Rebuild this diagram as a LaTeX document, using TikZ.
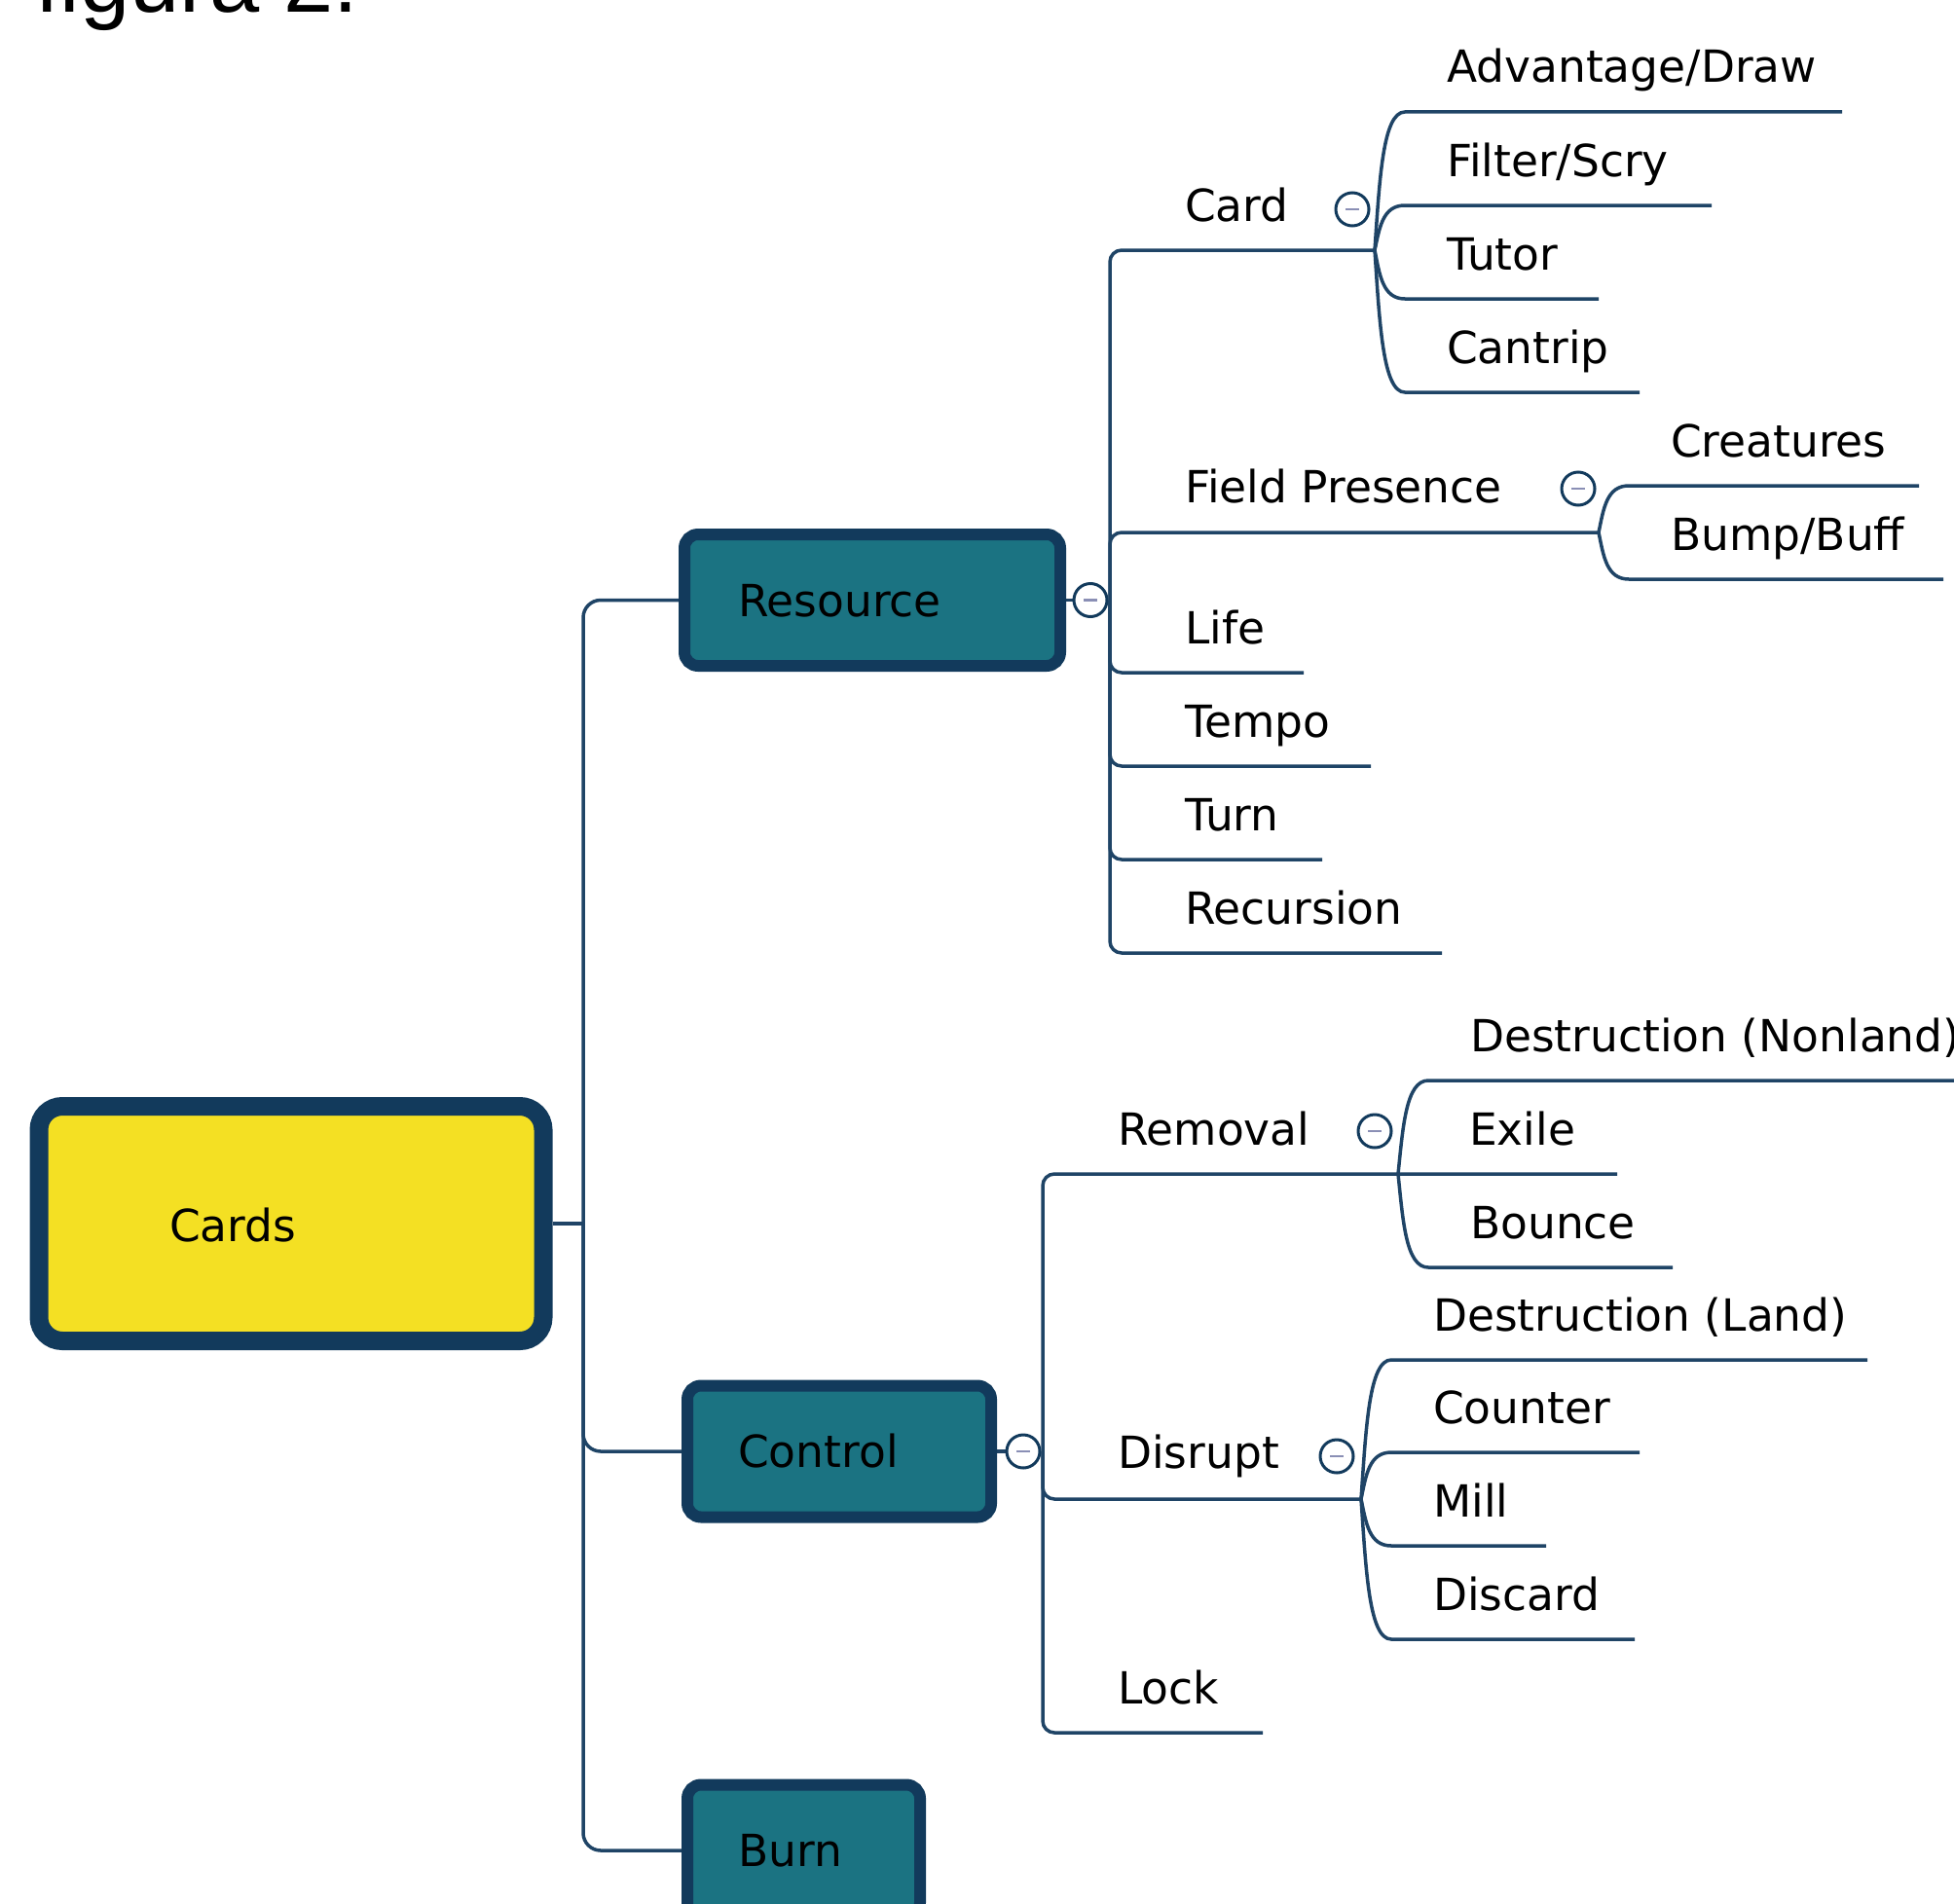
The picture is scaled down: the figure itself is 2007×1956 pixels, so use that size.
\documentclass[tikz,border=0pt]{standalone}
\usepackage{fontspec}
\setmainfont{DejaVu Sans}
\newfontfamily\figfont{Liberation Sans}
\definecolor{navy}{HTML}{123A5C}
\definecolor{linec}{HTML}{1F4466}
\definecolor{tealf}{HTML}{1B7382}
\definecolor{yellowf}{HTML}{F4E023}
\definecolor{minusc}{HTML}{8A8FB5}
\pgfdeclarelayer{bg}
\pgfsetlayers{bg,main}
\tikzset{
  conn/.style={draw=linec, line width=3.5pt},
  leaflbl/.style={anchor=base west, inner sep=0pt, font=\fontsize{45.5}{54}\selectfont, text=black},
  figlbl/.style={anchor=base west, inner sep=0pt, font=\figfont\fontsize{92}{100}\selectfont, text=black},
  rootbox/.style={draw=navy, fill=yellowf, line width=19pt, rounded corners=24pt, minimum width=518pt, minimum height=241pt, inner sep=0pt},
  topicbox/.style={draw=navy, fill=tealf, line width=12pt, rounded corners=14pt, minimum height=135pt, inner sep=0pt},
  tog/.style={circle, draw=navy, line width=3pt, fill=white, minimum size=34pt, inner sep=0pt,
    path picture={\draw[minusc, line width=2.5pt] ([xshift=-7pt]path picture bounding box.center) -- ([xshift=7pt]path picture bounding box.center);}}
}
% #1 name, #2 fork coordinate, #3 fx, #4 fy, #5 target y, #6 x end, #7 text
\newcommand\subleaf[7]{%
  \coordinate (#1S) at ({#3+31},#5);
  \coordinate (#1E) at (#6,#5);
  \node[leaflbl] (#1) at ({#3+74},{#5-30}) {#7};
  \draw[conn] (#2) .. controls ({#3+5},{(#4+#5)/2}) and ({#3+8},#5) .. (#1S) -- (#1E);
}
\begin{document}
\begin{tikzpicture}[x=1pt,y=-1pt]
\useasboundingbox (0,0) rectangle (2007,1956);
\clip (0,0) rectangle (2007,1956);

\node[figlbl] (fig) at (36,13) {figura 2.};

% boxes
\node[rootbox] (cards) at (299,1257) {};
\node[leaflbl] (cardsT) at (174,1275) {Cards};
\node[topicbox, minimum width=386pt] (res) at (896,616.5) {};
\node[leaflbl] (resT) at (758,633) {Resource};
\node[topicbox, minimum width=312pt] (ctl) at (862,1491) {};
\node[leaflbl] (ctlT) at (758,1507) {Control};
\node[topicbox, minimum width=239pt] (burn) at (825.5,1901) {};
\node[leaflbl] (burnT) at (758,1917) {Burn};

% toggles
\node[tog] (cres) at (1120,616.5) {};
\node[tog] (cctl) at (1051,1491) {};
\node[tog] (ccard) at (1389,215) {};
\node[tog] (cfp) at (1621,502) {};
\node[tog] (crem) at (1412,1162) {};
\node[tog] (cdis) at (1373,1496) {};

% coordinates
\coordinate (tk) at (599,1257);
\coordinate (rtk) at (1140,616.5);
\coordinate (ctk) at (1071,1491);
\coordinate (cardF) at (1412,257);
\coordinate (fpF) at (1642,547);
\coordinate (lifeE) at (1339,691);
\coordinate (tempoE) at (1408,787);
\coordinate (turnE) at (1358,883);
\coordinate (recE) at (1481,979);
\coordinate (remF) at (1436,1206);
\coordinate (exileE) at (1661,1206);
\coordinate (disF) at (1398,1540);
\coordinate (lockE) at (1297,1780);

% first-level labels
\node[leaflbl] (card) at (1217,227) {Card};
\node[leaflbl] (fp) at (1217,516) {Field Presence};
\node[leaflbl] (life) at (1217,661) {Life};
\node[leaflbl] (tempo) at (1217,757) {Tempo};
\node[leaflbl] (turn) at (1217,853) {Turn};
\node[leaflbl] (rec) at (1217,949) {Recursion};
\node[leaflbl] (rem) at (1148,1176) {Removal};
\node[leaflbl] (dis) at (1148,1508) {Disrupt};
\node[leaflbl] (lock) at (1148,1750) {Lock};
\node[leaflbl] (exile) at (1509,1176) {Exile};

\begin{pgfonlayer}{bg}
% main trunk
\draw[conn] (cards.east) -- (tk);
\draw[conn, rounded corners=18pt] (res.west) -| (tk) |- (burn.west);
\draw[conn, rounded corners=18pt] (tk) |- (ctl.west);
% resource
\draw[conn] (res.east) -- (cres);
\draw[conn, rounded corners=12pt] (cardF) -| (rtk) |- (recE);
\draw[conn, rounded corners=12pt] (rtk) |- (fpF);
\draw[conn, rounded corners=12pt] (rtk) |- (lifeE);
\draw[conn, rounded corners=12pt] (rtk) |- (tempoE);
\draw[conn, rounded corners=12pt] (rtk) |- (turnE);
% control
\draw[conn] (ctl.east) -- (cctl);
\draw[conn, rounded corners=12pt] (exileE) -| (ctk) |- (lockE);
\draw[conn, rounded corners=12pt] (ctk) |- (disF);

% sub leaves
\subleaf{adv}{cardF}{1412}{257}{115}{1892}{Advantage/Draw}
\subleaf{filt}{cardF}{1412}{257}{211}{1758}{Filter/Scry}
\subleaf{tutor}{cardF}{1412}{257}{307}{1642}{Tutor}
\subleaf{cant}{cardF}{1412}{257}{403}{1684}{Cantrip}
\subleaf{crea}{fpF}{1642}{547}{499}{1971}{Creatures}
\subleaf{bump}{fpF}{1642}{547}{595}{1996}{Bump/Buff}
\subleaf{dnl}{remF}{1436}{1206}{1110}{2060}{Destruction (Nonland)}
\subleaf{bounce}{remF}{1436}{1206}{1302}{1718}{Bounce}
\subleaf{dland}{disF}{1398}{1540}{1397}{1918}{Destruction (Land)}
\subleaf{counter}{disF}{1398}{1540}{1492}{1684}{Counter}
\subleaf{mill}{disF}{1398}{1540}{1588}{1588}{Mill}
\subleaf{disc}{disF}{1398}{1540}{1684}{1679}{Discard}
\end{pgfonlayer}
\end{tikzpicture}
\end{document}
